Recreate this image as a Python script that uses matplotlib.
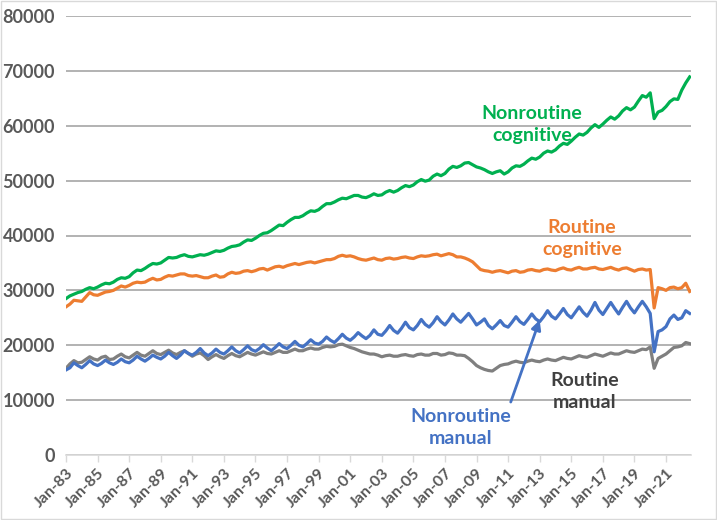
import matplotlib
matplotlib.use("Agg")
import matplotlib.pyplot as plt
from matplotlib.patches import Rectangle

# ---------------- data (quarterly: Jan, Apr, Jul, Oct), Jan-1983 .. Jul-2022 ----------------
start_year = 1983
tick_labels = ["Jan-%02d" % (y % 100) for y in range(1983, 2022, 2)]

nonroutine_cognitive = [
    28500, 29000, 29300, 29600,  29800, 30200, 30500, 30300,  30600, 31000, 31300, 31200,
    31500, 32000, 32300, 32200,  32500, 33200, 33700, 33600,  34000, 34500, 34900, 34800,
    35000, 35500, 36000, 35900,  36000, 36300, 36500, 36200,  36100, 36300, 36500, 36400,
    36600, 36900, 37200, 37100,  37300, 37700, 38000, 38100,  38300, 38800, 39200, 39100,
    39500, 40000, 40400, 40500,  40900, 41400, 41900, 41800,  42400, 42900, 43300, 43300,
    43600, 44100, 44500, 44400,  44700, 45300, 45800, 45800,  46100, 46500, 46800, 46700,
    47000, 47300, 47300, 47000,  46900, 47200, 47600, 47300,  47400, 47900, 48200, 47900,
    48200, 48700, 49100, 48900,  49200, 49800, 50200, 49900,  50100, 50800, 51200, 50900,
    51300, 52100, 52600, 52400,  52700, 53200, 53300, 52900,  52500, 52300, 52000, 51600,
    51300, 51600, 51800, 51200,  51600, 52300, 52700, 52600,  53000, 53600, 54100, 53900,
    54300, 55000, 55400, 55200,  55600, 56300, 56800, 56600,  57200, 57900, 58500, 58300,
    58800, 59600, 60200, 59700,  60300, 61000, 61600, 61200,  61800, 62700, 63300, 62900,
    63400, 64500, 65500, 65200,  66000, 61300, 62500, 62800,  63500, 64400, 64900, 64800,
    66500, 67800, 68900,
]

routine_cognitive = [
    27000, 27500, 28200, 28100,  28000, 28800, 29600, 29200,  29100, 29400, 29700, 29800,
    30000, 30400, 30800, 30600,  30900, 31300, 31500, 31400,  31500, 31900, 32200, 31900,
    32000, 32400, 32700, 32600,  32800, 33000, 33000, 32700,  32600, 32700, 32500, 32300,
    32300, 32600, 32800, 32400,  32500, 33000, 33300, 33100,  33200, 33500, 33600, 33400,
    33600, 33900, 34000, 33700,  34000, 34300, 34400, 34200,  34500, 34700, 34900, 34700,
    34900, 35100, 35200, 35000,  35200, 35400, 35600, 35600,  35800, 36200, 36400, 36200,
    36300, 36100, 35800, 35600,  35500, 35700, 35900, 35600,  35500, 35800, 35900, 35700,
    35800, 36000, 36100, 35900,  35800, 36100, 36300, 36200,  36300, 36500, 36600, 36300,
    36500, 36700, 36500, 36100,  36100, 35900, 35600, 35200,  34500, 33800, 33600, 33500,
    33300, 33500, 33600, 33400,  33200, 33500, 33600, 33300,  33400, 33700, 33800, 33600,
    33500, 33800, 33900, 33700,  33600, 33900, 34100, 33800,  33700, 34000, 34200, 33900,
    33900, 34100, 34200, 33900,  33800, 34000, 34200, 33900,  33700, 34000, 34100, 33800,
    33500, 33800, 33900, 33700,  33800, 26800, 30500, 30300,  30000, 30500, 30600, 30300,
    30500, 31300, 29800,
]

nonroutine_manual = [
    15500, 15900, 16800, 16300,  15900, 16500, 17200, 16600,  16300, 16700, 17300, 16800,
    16500, 16900, 17500, 17000,  16800, 17300, 18000, 17500,  17100, 17600, 18200, 17800,
    17500, 18000, 18700, 18100,  17600, 18200, 19000, 18500,  18200, 18700, 19400, 18600,
    18100, 18600, 19300, 18700,  18400, 19000, 19700, 19000,  18600, 19200, 19900, 19200,
    18900, 19400, 20100, 19500,  19000, 19600, 20300, 19700,  19400, 20000, 20700, 20000,
    19700, 20300, 21000, 20400,  20200, 20700, 21500, 20900,  20500, 21200, 22000, 21300,
    20900, 21500, 22300, 21700,  21200, 21800, 22800, 22000,  21800, 22600, 23600, 22700,
    22200, 23100, 24200, 23200,  22800, 23600, 24700, 23800,  23300, 24100, 25200, 24300,
    23700, 24600, 25700, 24800,  24200, 25000, 25800, 24800,  23700, 24200, 24800, 23600,
    23000, 23700, 24500, 23600,  23300, 24200, 25200, 24300,  23800, 24700, 25700, 24800,
    24300, 25200, 26300, 25300,  24800, 25700, 26700, 25600,  25000, 26000, 27000, 26000,
    25300, 26400, 27800, 26400,  25600, 26700, 27800, 26700,  25700, 26900, 28000, 26800,
    25900, 27000, 28000, 27000,  25800, 18800, 22500, 22800,  23400, 24800, 25500, 24700,
    25000, 26300, 25800,
]

routine_manual = [
    15800, 16600, 17200, 16800,  16900, 17400, 17900, 17500,  17300, 17800, 18000, 17400,
    17500, 18000, 18400, 17900,  17700, 18200, 18700, 18200,  18000, 18500, 19000, 18500,
    18300, 18700, 19100, 18600,  18300, 18700, 19000, 18500,  18000, 18400, 18600, 18100,
    17400, 17900, 18300, 17900,  17600, 18100, 18500, 18100,  17900, 18300, 18700, 18400,
    18200, 18500, 18800, 18500,  18400, 18700, 19000, 18700,  18700, 19000, 19300, 19000,
    19000, 19300, 19500, 19300,  19300, 19600, 19800, 19700,  19800, 20100, 20200, 19900,
    19600, 19400, 19100, 18800,  18600, 18400, 18400, 18200,  17900, 18100, 18200, 18000,
    18000, 18200, 18300, 18100,  18000, 18300, 18400, 18200,  18200, 18500, 18500, 18200,
    18300, 18600, 18500, 18200,  18200, 18100, 17600, 17000,  16300, 15900, 15600, 15400,
    15300, 15800, 16300, 16500,  16600, 16900, 17100, 16900,  16800, 17100, 17300, 17100,
    17000, 17300, 17500, 17300,  17200, 17500, 17800, 17600,  17500, 17800, 18100, 17900,
    17800, 18100, 18400, 18200,  18000, 18300, 18600, 18400,  18400, 18700, 19000, 18800,
    18700, 19000, 19300, 19200,  19700, 15800, 17600, 18000,  18400, 19000, 19600, 19700,
    19900, 20500, 20300,
]

months = [3 * i for i in range(len(nonroutine_cognitive))]   # months since Jan-1983

# ---------------- styling ----------------
plt.rcParams['font.family'] = ['Lato', 'DejaVu Sans']
GREEN, ORANGE, BLUE, GRAY = "#00B050", "#ED7D31", "#4472C4", "#7F7F7F"
TXT = "#595959"

fig = plt.figure(figsize=(7.17, 5.20), dpi=100)
ax = fig.add_axes([66 / 717, 1 - 455 / 520, (691 - 66) / 717, (455 - 16) / 520])

for vals, col in [(routine_manual, GRAY), (nonroutine_manual, BLUE),
                  (routine_cognitive, ORANGE), (nonroutine_cognitive, GREEN)]:
    ax.plot(months, vals, color=col, lw=2.3, solid_joinstyle='round', zorder=3)

ax.set_ylim(0, 80000)
ax.set_xlim(0, months[-1] + 1)
ax.set_yticks(range(0, 80001, 10000))
ax.set_yticklabels([str(v) for v in range(0, 80001, 10000)],
                   fontsize=13, fontweight='bold', color=TXT)
ax.set_xticks(range(0, 24 * len(tick_labels), 24))
ax.set_xticklabels(tick_labels, rotation=45, ha='right', rotation_mode='anchor',
                   fontsize=11.5, fontweight='bold', color=TXT)
ax.tick_params(axis='y', length=0, pad=8)
ax.tick_params(axis='x', length=5, color='#D9D9D9', width=1, pad=3)
ax.grid(axis='y', color='#A6A6A6', lw=1.2, zorder=0)
for s in ['top', 'right', 'left']:
    ax.spines[s].set_visible(False)
ax.spines['bottom'].set_color('#D9D9D9')
ax.spines['bottom'].set_linewidth(1.2)

# ---------------- labels ----------------
fs = 14
ls = 1.35
ax.text(354, 60200, "Nonroutine\ncognitive", color=GREEN, fontsize=fs, fontweight='bold',
        ha='center', va='center', linespacing=ls)
ax.text(392, 39400, "Routine\ncognitive", color=ORANGE, fontsize=fs, fontweight='bold',
        ha='center', va='center', linespacing=ls)
ax.text(394, 11600, "Routine\nmanual", color="#404040", fontsize=fs, fontweight='bold',
        ha='center', va='center', linespacing=ls)
ax.text(300, 5000, "Nonroutine\nmanual", color=BLUE, fontsize=fs, fontweight='bold',
        ha='center', va='center', linespacing=ls)
ax.annotate("", xy=(360, 24600), xytext=(338, 9650),
            arrowprops=dict(arrowstyle='-|>', color=BLUE, lw=2, mutation_scale=14,
                            shrinkA=0, shrinkB=0))

fig.patches.append(Rectangle((0.002, 0.002), 0.996, 0.996, transform=fig.transFigure,
                             fill=False, edgecolor='#D9D9D9', lw=1))

fig.savefig("out.png", dpi=100)
